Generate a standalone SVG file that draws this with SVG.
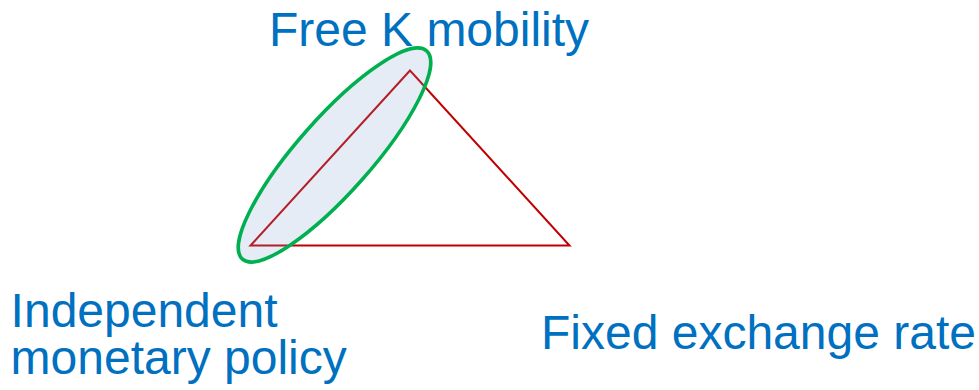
<svg xmlns="http://www.w3.org/2000/svg" width="979" height="390" viewBox="0 0 979 390">
<style>
.lbl{font-family:"Liberation Sans",Arial,sans-serif;font-size:48px;fill:#0070C0}
.tri{fill:none;stroke:#C00000;stroke-width:2;stroke-linejoin:miter}
.ell{fill:#82A0CD;fill-opacity:0.2;stroke:#00B050;stroke-width:3.5}
</style>
<rect width="979" height="390" fill="#FFFFFF"/>
<g id="connectors">
<polygon class="tri" points="410,70.5 250.5,245.5 569.5,245.5"/>
</g>
<g id="ellipse-highlight">
<ellipse class="ell" cx="334.5" cy="155" rx="139" ry="37" transform="rotate(-48.5 334.5 155)"/>
</g>
<g id="node-free-k">
<text class="lbl" x="269" y="45.7">Free K mobility</text>
</g>
<g id="node-independent">
<text class="lbl" x="10.6" y="326.7">Independent</text>
<text class="lbl" x="10.6" y="374.3">monetary policy</text>
</g>
<g id="node-fixed">
<text class="lbl" x="541" y="349">Fixed exchange rate</text>
</g>
</svg>
